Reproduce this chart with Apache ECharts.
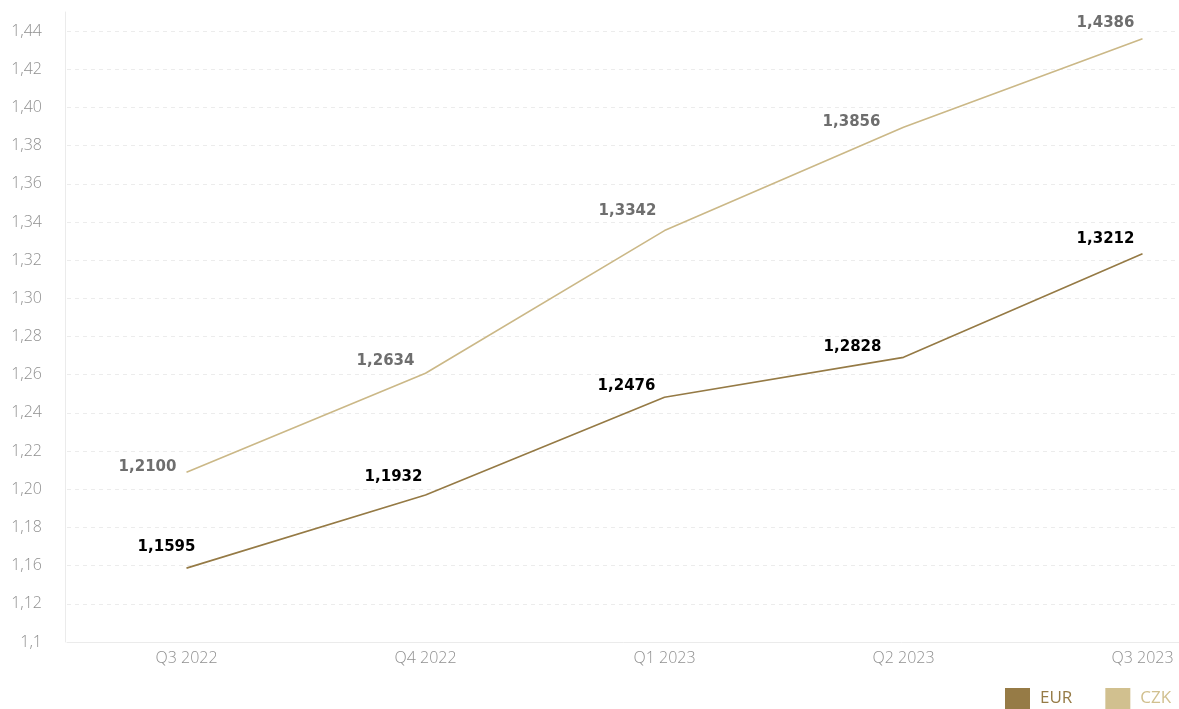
<!DOCTYPE html>
<html>
<head>
<meta charset="utf-8">
<script src="https://cdn.jsdelivr.net/npm/echarts@6/dist/echarts.min.js"></script>
<style>
html,body{margin:0;padding:0;background:#fff;}
#chart{width:1179px;height:709px;}
</style>
</head>
<body>
<div id="chart"></div>
<script>
// Categories (quarters)
var categories = ['Q3 2022', 'Q4 2022', 'Q1 2023', 'Q2 2023', 'Q3 2023'];
var eurValues = [1.1587, 1.1970, 1.2482, 1.2691, 1.3234];
var czkValues = [1.2089, 1.2608, 1.3355, 1.3896, 1.4360];
// Printed data labels
var eurLabels = ['1,1595', '1,1932', '1,2476', '1,2828', '1,3212'];
var czkLabels = ['1,2100', '1,2634', '1,3342', '1,3856', '1,4386'];
// Y-axis tick values and their printed labels
var yTickValues = [1.12, 1.14, 1.16, 1.18, 1.20, 1.22, 1.24, 1.26, 1.28, 1.30, 1.32, 1.34, 1.36, 1.38, 1.40, 1.42, 1.44];
var yTickLabels = ['1,1', '1,12', '1,16', '1,18', '1,20', '1,22', '1,24', '1,26', '1,28', '1,30', '1,32', '1,34', '1,36', '1,38', '1,40', '1,42', '1,44'];

// label offsets (styling only)
var eurOffsets = [[-20, -21], [-32, -18], [-38, -11], [-51, -10], [-37, -15]];
var czkOffsets = [[-39, -5], [-40, -12], [-37, -19], [-52, -5], [-37, -16]];

var EUR_COLOR = '#957a45';
var CZK_COLOR = '#cbb887';

function buildData(values, labels, offsets, color) {
  return values.map(function (v, i) {
    return {
      value: v,
      label: {
        show: true,
        position: 'inside',
        offset: offsets[i],
        formatter: labels[i],
        color: color,
        fontFamily: 'DejaVu Sans',
        fontWeight: 'bold',
        fontSize: 15,
        align: 'center',
        verticalAlign: 'middle'
      }
    };
  });
}

var chart = echarts.init(document.getElementById('chart'), null, {renderer: 'canvas'});
chart.setOption({
  animation: false,
  backgroundColor: '#ffffff',
  grid: {left: 67, width: 1195, top: 12, height: 630, containLabel: false, outerBoundsMode: 'none'},
  legend: {
    left: 1005,
    top: 688,
    padding: 0,
    itemWidth: 25,
    itemHeight: 21,
    itemGap: 33,
    icon: 'rect',
    textStyle: {fontFamily: 'Open Sans', fontSize: 17, padding: [0, 0, 0, 5]},
    data: [
      {name: 'EUR', itemStyle: {color: '#967b46'}, textStyle: {color: '#967b46'}},
      {name: 'CZK', itemStyle: {color: '#d1c08f'}, textStyle: {color: '#d1c08f'}}
    ]
  },
  xAxis: {
    type: 'category',
    data: categories,
    boundaryGap: true,
    axisLine: {show: true, lineStyle: {color: '#ebebeb', width: 1}},
    axisTick: {show: false},
    splitLine: {show: false},
    axisLabel: {color: '#909090', fontFamily: 'Open Sans', fontWeight: 300, fontSize: 16, margin: 8}
  },
  yAxis: {
    type: 'value',
    min: 1.12,
    max: 1.45,
    interval: 0.02,
    offset: 2,
    axisLine: {show: true, lineStyle: {color: '#ebebeb', width: 1}},
    axisTick: {show: false},
    splitLine: {show: true, showMinLine: false, showMaxLine: false, lineStyle: {color: '#ececec', type: [4, 4], width: 1}},
    axisLabel: {
      color: '#909090', fontFamily: 'Open Sans', fontWeight: 300, fontSize: 16, margin: 23,
      showMaxLabel: false,
      formatter: function (v) {
        for (var i = 0; i < yTickValues.length; i++) {
          if (Math.abs(yTickValues[i] - v) < 1e-6) return yTickLabels[i];
        }
        return '';
      }
    }
  },
  series: [
    {
      name: 'EUR',
      type: 'line',
      data: buildData(eurValues, eurLabels, eurOffsets, '#000000'),
      symbol: 'circle',
      symbolSize: 2,
      showSymbol: true,
      itemStyle: {color: 'transparent', borderWidth: 0},
      lineStyle: {color: EUR_COLOR, width: 1.6},
      z: 3
    },
    {
      name: 'CZK',
      type: 'line',
      data: buildData(czkValues, czkLabels, czkOffsets, '#6e6e6e'),
      symbol: 'circle',
      symbolSize: 2,
      showSymbol: true,
      itemStyle: {color: 'transparent', borderWidth: 0},
      lineStyle: {color: CZK_COLOR, width: 1.6},
      z: 2
    }
  ]
});
</script>
</body>
</html>
